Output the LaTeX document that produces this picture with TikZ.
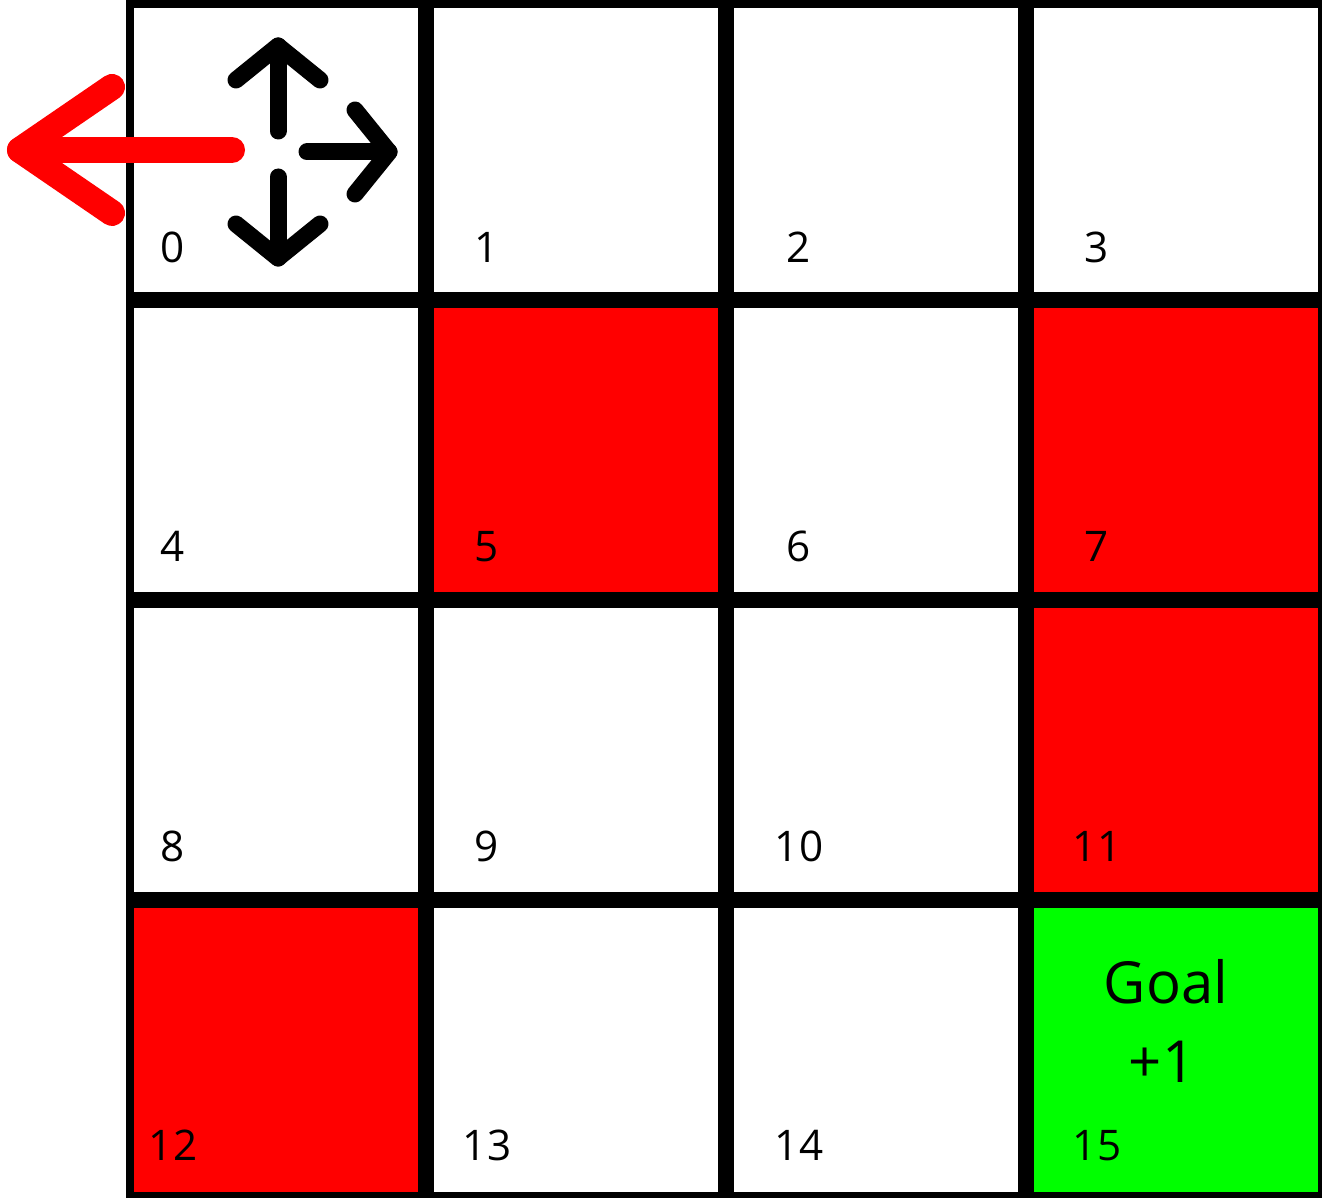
\documentclass[tikz,border=0pt]{standalone}
\usepackage{fontspec}
\setmainfont{Open Sans}
\usetikzlibrary{calc}

\definecolor{holered}{RGB}{255,0,0}
\definecolor{goalgreen}{RGB}{0,255,0}

\begin{document}
\begin{tikzpicture}[x=0.01cm,y=-0.01cm,
  cell/.style={draw=black,line width=0.08cm},
  move/.style={draw=black,line width=0.17cm,line cap=round,line join=round},
  chosen/.style={draw=holered,line width=0.26cm,line cap=round,line join=round},
  num/.style={font=\fontsize{12}{14}\selectfont,anchor=base,inner sep=0pt},
  goaltext/.style={font=\fontsize{16.5}{20}\selectfont,anchor=base,inner sep=0pt}]
\useasboundingbox (0,0) rectangle (1322,1198);

% The 4x4 lake, one square per state
\foreach \i/\col in {0/white,1/white,2/white,3/white,
                     4/white,5/holered,6/white,7/holered,
                     8/white,9/white,10/white,11/holered,
                     12/holered,13/white,14/white,15/goalgreen}{
  \pgfmathtruncatemacro{\c}{mod(\i,4)}
  \pgfmathtruncatemacro{\r}{div(\i,4)}
  \pgfmathsetmacro{\lx}{{173,487,799,1097}[\c]}
  \draw[cell,fill=\col] ({130+300*\c},{4+300*\r}) rectangle ({422+300*\c},{296+300*\r});
  \node[num] (s\i) at (\lx,{263+299*\r}) {\i};
}

% Goal text
\node[goaltext] (goal) at (1166,1003) {Goal};
\node[goaltext] (reward) at (1162,1082) {+1};

% Possible moves from state 0
\coordinate (up) at (278,46);
\coordinate (right) at (389,152);
\coordinate (down) at (278,258);
\draw[move] (278,131) -- (up);
\draw[move] (236,80) -- (up) -- (320,80);
\draw[move] (307,152) -- (right);
\draw[move] (355,110) -- (right) -- (355,194);
\draw[move] (278,177) -- (down);
\draw[move] (236,224) -- (down) -- (320,224);

% The chosen move: left
\coordinate (left) at (20,150);
\draw[chosen] (232,150) -- (left);
\draw[chosen] (112,87) -- (left) -- (112,213);
\end{tikzpicture}
\end{document}
